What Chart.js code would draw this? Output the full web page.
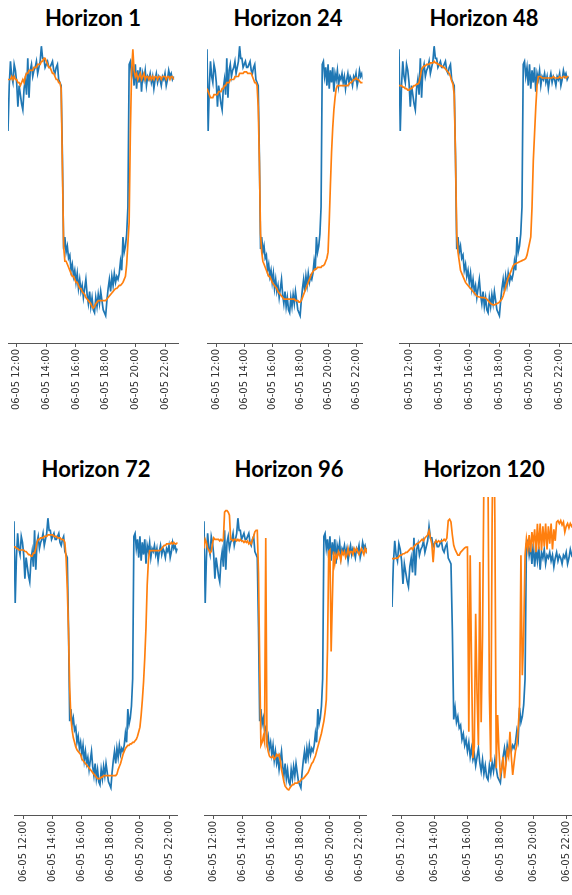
<!DOCTYPE html>
<html>
<head>
<meta charset="utf-8">
<script src="https://cdn.jsdelivr.net/npm/chart.js@4.4.1/dist/chart.umd.min.js"></script>
<style>
  html, body { margin: 0; padding: 0; background: #fff; }
  body { position: relative; width: 572px; height: 895px; overflow: hidden; }
  canvas { position: absolute; }
  .title {
    position: absolute;
    transform: translate(-50%, -50%);
    font: bold 22px Lato, sans-serif;
    line-height: 22px;
    color: #000;
    white-space: nowrap;
  }
</style>
</head>
<body>
<script>
// one sample every 5 minutes on 06-05, first sample at 11:20
const startHour = 11 + 20 / 60;
const stepMinutes = 5;

const horizons = [1, 24, 48, 72, 96, 120];
const tickHours = [12, 14, 16, 18, 20, 22];
const tickLabels = ['06-05 12:00', '06-05 14:00', '06-05 16:00', '06-05 18:00', '06-05 20:00', '06-05 22:00'];

// rows: 11:20-11:55, then one row per hour, last row 22:00-22:35
const actual = [
  97, 70, 85, 93, 88, 86, 92, 90,
  86, 78, 85, 82, 79, 77, 84, 87, 82, 94, 81, 90,
  92, 88, 90, 91, 93, 89, 91, 93, 98, 94, 94, 91,
  92, 93, 91, 91, 92, 93, 90, 89, 91, 92, 87, 86,
  85, 62, 31, 35, 30, 32, 28, 29, 24, 26, 22, 24,
  20, 23, 18, 21, 17, 19, 15, 18, 21, 16, 13, 17,
  12, 15, 11, 10, 15, 12, 16, 13, 17, 14, 11, 10,
  9, 14, 18, 21, 17, 22, 19, 23, 20, 22, 21, 23,
  27, 24, 35, 30, 32, 36, 45, 92, 93, 88, 91, 85,
  92, 84, 90, 86, 91, 83, 89, 87, 90, 85, 88, 87,
  89, 86, 88, 84, 87, 89, 86, 88, 87, 85, 88, 87,
  89, 85, 87, 90, 88, 89, 87, 88
];

const forecastH1 = [
  87, 87, 87, 87, 88, 87, 88, 87,
  87, 86, 86, 85, 86, 87, 86, 88, 89, 89, 90, 90,
  90, 90, 91, 91, 91, 92, 92, 92, 93, 93, 94, 94,
  93, 92, 91, 91, 90, 89, 89, 88, 87, 87, 86, 86,
  84, 58, 32, 27, 27, 26, 25, 24, 23, 22, 22, 21,
  20, 20, 19, 18, 18, 17, 16.5, 16, 15, 14.5, 14, 13.5,
  13, 12, 11.5, 12, 13, 13.5, 14, 14, 14, 14, 14, 14,
  14, 14.5, 15, 15.5, 16, 16.5, 17, 17.5, 18, 18, 18.5, 19,
  19, 19.5, 20, 21, 22, 26, 33, 40, 70, 90, 97, 90,
  88, 89, 87, 88, 89, 87, 88, 89, 87, 88, 88, 87,
  88, 87, 88, 87, 88, 88, 87, 88, 88, 87, 88, 88,
  88, 87, 88, 88, 87, 88, 88, 87
];

const forecastH24 = [
  84, 83, 82, 81, 81, 81, 82, 82,
  82, 82, 83, 83, 83, 84, 84, 85, 85, 86, 86, 86,
  87, 87, 87, 87, 88, 88, 88, 88, 89, 89, 89, 89,
  89.5, 89.5, 89.5, 89, 89, 89, 89, 88, 87, 86, 86, 85,
  78, 60, 36, 30, 27, 26, 25, 24, 23, 22, 22, 21,
  20, 19.5, 19, 18.5, 18, 17, 16.5, 16, 15.5, 15, 14.5, 14.5,
  14.5, 14.5, 14.5, 14.5, 14.5, 14.5, 14.5, 14.5, 14, 14, 14, 13.5,
  13.5, 14, 15, 16, 17, 18, 19, 20, 21, 22, 23, 23.5,
  24, 24.5, 24.5, 25, 25, 25, 25, 25.5, 25.5, 26, 27, 28,
  30, 40, 52, 63, 71, 77, 81, 84, 85, 85, 85, 85,
  85, 85, 85, 85, 85, 85, 85.5, 86, 86, 86.5, 87, 87,
  87.5, 87, 87, 86.5, 86, 86, 86, 86
];

const forecastH48 = [
  85, 85, 85, 84.5, 84.5, 84, 84, 83.5,
  83.5, 84, 84, 84.5, 85, 85, 85.5, 85.5, 86, 88, 90.5, 91,
  91.5, 91.5, 92, 92, 92, 92.5, 92.5, 92.5, 93, 92.5, 92.5, 92,
  92, 91.5, 91.5, 91, 91, 90.5, 90, 89.5, 89, 88, 86.5, 85.5,
  82, 62, 36, 30, 27, 24, 23, 22, 21, 20, 19.5, 19,
  18.5, 18, 17.5, 17, 16.5, 16, 15.5, 15.3, 15.2, 15.1, 15, 15,
  15, 14.8, 14.5, 14, 13.5, 13, 12.8, 12.6, 12.6, 12.8, 13, 13.2,
  13.5, 14, 14.5, 15.5, 17, 18.5, 20, 21.5, 22.5, 23.5, 24.5, 25.5,
  26, 26.2, 26.4, 26.6, 26.8, 27, 27.2, 27.4, 27.6, 27.9, 29, 31,
  33, 35, 45, 60, 69, 78, 85, 88, 88, 88, 87.5, 87.5,
  87.5, 87.5, 87.5, 87.5, 87.5, 87.5, 87.5, 88, 87.5, 87.5, 87.5, 87.5,
  88, 87.5, 87.5, 88, 88, 87.5, 88, 88
];

const forecastH72 = [
  88.5, 88.5, 88, 88, 87.5, 87.5, 87.5, 87.5,
  87.5, 87, 87, 86.5, 86, 86, 85.5, 85.5, 86.5, 86.5, 88, 90,
  91, 91, 91.5, 91.5, 91.5, 92, 92, 92, 92.5, 92.5, 92.5, 92.5,
  92.5, 92, 92, 92, 91.5, 91.5, 91.5, 91, 91, 90.8, 90, 85,
  75, 61, 42, 32, 28, 25.5, 24, 22.5, 21.5, 21, 20.5, 20,
  18.5, 18, 17.5, 17, 16.5, 16, 15.5, 15, 14.5, 14, 13.5, 13,
  12.5, 12, 12, 12, 12.5, 12.5, 13, 13, 13, 13, 13, 13,
  13, 13, 13, 13, 13, 13.5, 15, 16, 17, 18.5, 20, 21,
  22, 22.5, 23, 23, 23.5, 23.5, 24, 24, 24.5, 25, 26, 27.5,
  29, 33, 38, 44, 52, 62, 76, 84, 87.3, 87.3, 87.3, 87.3,
  87.3, 87.3, 87.3, 87.3, 87.3, 87.5, 88, 88.5, 89, 89, 89.5, 89.5,
  89.5, 89.5, 90, 89.5, 90, 89.5, 89.5, 90
];

const forecastH96 = [
  88, 91, 90, 88, 87.5, 86.5, 87, 89.5,
  91.5, 91, 91, 91, 91, 90.5, 91, 90.5, 91, 100, 100.5, 100.5,
  100, 99, 91, 91, 90.5, 91, 91, 90.5, 91, 90.5, 91, 90.5,
  90.5, 90, 90.5, 90, 90.5, 89.5, 90, 89.5, 91, 92, 93.5, 94,
  94, 80, 50, 23, 24, 26, 24, 91.5, 23.5, 21, 19.5, 19,
  19, 19.5, 18.5, 19, 20, 19.5, 20, 18, 15, 13, 11, 9.5,
  9, 8.5, 8.3, 9, 9.5, 10, 10, 10.5, 10.5, 10.5, 11, 11,
  11.5, 12, 12, 12.5, 13, 13.5, 14, 15, 16, 17, 17.5, 18.5,
  19.5, 21, 22.5, 24, 25.5, 27, 29, 31, 34, 38, 55, 87,
  87.5, 54, 71, 87, 83, 86, 85, 87, 86, 84, 87, 86,
  87, 85, 86, 88, 86, 87, 87, 86, 88, 87, 88, 87,
  86, 87, 88, 87, 86, 88, 87, 88
];

const forecastH120 = [
  86.8, 86.8, 86.8, 86.8, 87, 87, 87.5, 88,
  88, 88.5, 88.5, 89, 89, 89.5, 90, 90.5, 90, 91, 91.5, 92,
  92, 92.5, 93, 93.5, 93, 94, 94.5, 95, 96.5, 94, 92, 85.6,
  92, 93, 92.5, 93, 92.5, 93, 93, 93.5, 93, 94, 100, 100.5,
  99.5, 95, 91.4, 90, 89, 88, 88, 89, 89.5, 90, 90.5, 90.8,
  90.8, 26.7, 88, 50, 17.5, 21.5, 67.7, 40, 22, 85.6, 30, 60,
  115, 135, 135, 115, 40, 16.3, 100, 150, 100, 14, 32.5, 20,
  11.7, 14, 18, 10.6, 15, 20, 18, 26.7, 18, 11.7, 16, 20,
  22, 28, 35.9, 88, 46.3, 60, 88, 93.7, 90, 95, 89, 96,
  92, 97, 89, 98.9, 90, 99, 89.6, 98, 91, 99, 90, 98,
  92, 99, 90, 97, 93, 99.5, 100, 99, 100, 98.5, 99.5, 96,
  98, 99, 97.5, 99, 98, 99, 98, 98.5
];

const forecasts = [forecastH1, forecastH24, forecastH48, forecastH72, forecastH96, forecastH120];

// where each subplot sits on the page; top is the top of the plot area
const panels = [
  { left: 8,   top: 25,  width: 171, pxPerHour: 14.9,  xMin: 11.4167, yMin: 0,    yMax: 105,   titleX: 93,  titleY: 18 },
  { left: 207, top: 25,  width: 163, pxPerHour: 14.64, xMin: 11.3333, yMin: 0,    yMax: 105,   titleX: 288, titleY: 18 },
  { left: 399, top: 25,  width: 193, pxPerHour: 15.06, xMin: 11.3333, yMin: 0,    yMax: 105,   titleX: 484, titleY: 18 },
  { left: 14,  top: 497, width: 169, pxPerHour: 15.0,  xMin: 11.3333, yMin: 0,    yMax: 105,   titleX: 96,  titleY: 469 },
  { left: 204, top: 497, width: 169, pxPerHour: 15.07, xMin: 11.3333, yMin: 0,    yMax: 105,   titleX: 289, titleY: 469 },
  { left: 392, top: 497, width: 200, pxPerHour: 16.46, xMin: 11.4167, yMin: -2.2, yMax: 108.2, titleX: 484, titleY: 469 }
];

const plotHeight = 318;
const axisHeight = 75;

const times = actual.map((_, i) => startHour + i * stepMinutes / 60);
const toPoints = (values) => values.map((v, i) => ({ x: times[i], y: v }));

panels.forEach((p, k) => {
  const title = document.createElement('div');
  title.className = 'title';
  title.textContent = 'Horizon ' + horizons[k];
  title.style.left = p.titleX + 'px';
  title.style.top = p.titleY + 'px';
  document.body.appendChild(title);

  const canvas = document.createElement('canvas');
  canvas.width = p.width;
  canvas.height = plotHeight + axisHeight;
  canvas.style.left = p.left + 'px';
  canvas.style.top = p.top + 'px';
  document.body.appendChild(canvas);

  new Chart(canvas.getContext('2d'), {
    type: 'line',
    data: {
      datasets: [
        {
          label: 'Forecast',
          data: toPoints(forecasts[k]),
          borderColor: '#ff7f0e',
          borderWidth: 1.7,
          pointRadius: 0,
          tension: 0,
          order: 0
        },
        {
          label: 'Actual',
          data: toPoints(actual),
          borderColor: '#1f77b4',
          borderWidth: 1.7,
          pointRadius: 0,
          tension: 0,
          order: 1
        }
      ]
    },
    options: {
      responsive: false,
      animation: false,
      events: [],
      layout: { padding: 0 },
      plugins: {
        legend: { display: false },
        tooltip: { enabled: false }
      },
      scales: {
        x: {
          type: 'linear',
          min: p.xMin,
          max: p.xMin + p.width / p.pxPerHour,
          afterBuildTicks: (scale) => {
            scale.ticks = tickHours.map((h) => ({ value: h }));
          },
          afterFit: (scale) => {
            scale.height = axisHeight;
          },
          grid: {
            display: true,
            drawOnChartArea: false,
            drawTicks: true,
            tickLength: 4,
            color: '#555'
          },
          border: { display: true, color: '#555', width: 1 },
          ticks: {
            autoSkip: false,
            minRotation: 90,
            maxRotation: 90,
            padding: 2,
            color: '#333',
            font: { family: 'DejaVu Sans', size: 10 },
            callback: (value, index) => tickLabels[index]
          }
        },
        y: {
          display: false,
          min: p.yMin,
          max: p.yMax
        }
      }
    }
  });
});
</script>
</body>
</html>
